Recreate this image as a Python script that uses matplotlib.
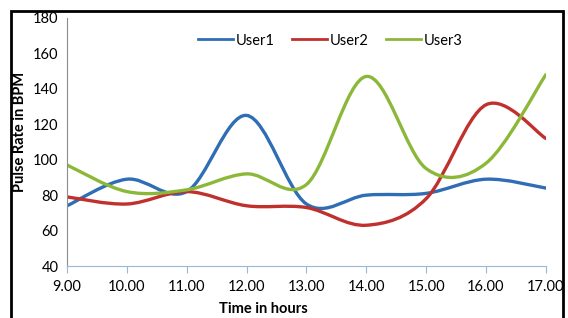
import matplotlib
matplotlib.use("Agg")
import matplotlib.pyplot as plt
import numpy as np
from matplotlib.path import Path
from matplotlib.patches import PathPatch, Rectangle
from matplotlib.lines import Line2D

hours = [9, 10, 11, 12, 13, 14, 15, 16, 17]
hour_labels = ["9.00", "10.00", "11.00", "12.00", "13.00", "14.00", "15.00", "16.00", "17.00"]
user1 = [74, 89, 82, 125, 75, 80, 81, 89, 84]
user2 = [79, 75, 82, 74, 73, 63, 78, 131, 112]
user3 = [97, 82, 83, 92, 86, 147, 95, 98, 148]

colors = {"User1": "#2f6db5", "User2": "#c0302c", "User3": "#8cb83a"}


def smooth_path(x, y):
    # Excel-style smoothed line: cubic Bezier through each point
    x = np.asarray(x, float)
    y = np.asarray(y, float)
    pts = np.column_stack([x, y])
    verts = [pts[0]]
    codes = [Path.MOVETO]
    n = len(pts)
    for i in range(n - 1):
        p0 = pts[max(i - 1, 0)]
        p1 = pts[i]
        p2 = pts[i + 1]
        p3 = pts[min(i + 2, n - 1)]
        c1 = p1 + (p2 - p0) / 6.0
        c2 = p2 - (p3 - p1) / 6.0
        verts += [c1, c2, p2]
        codes += [Path.CURVE4] * 3
    return Path(verts, codes)


fig = plt.figure(figsize=(5.68, 3.18), dpi=100)
ax = fig.add_axes([0.118, 0.1635, 0.843, 0.78])

for name, vals in [("User1", user1), ("User2", user2), ("User3", user3)]:
    patch = PathPatch(smooth_path(hours, vals), facecolor="none",
                      edgecolor=colors[name], lw=2.4, capstyle="round")
    ax.add_patch(patch)

ax.set_xlim(9, 17)
ax.set_ylim(40, 180)
ax.set_xticks(hours)
ax.set_xticklabels(hour_labels)
ax.set_yticks(range(40, 181, 20))

font = "Lato"
for lab in ax.get_xticklabels() + ax.get_yticklabels():
    lab.set_fontfamily(font)
    lab.set_fontsize(10.5)

ax.tick_params(axis="x", direction="out", length=5, color="#9db5d6", pad=5)
ax.tick_params(axis="y", length=0, pad=6)
for side in ["top", "right"]:
    ax.spines[side].set_visible(False)
ax.spines["bottom"].set_color("#9db5d6")
ax.spines["left"].set_color("#8c8c8c")

ax.set_xlabel("Time in hours", fontfamily=font, fontsize=10.5, fontweight="bold")
ax.xaxis.set_label_coords(0.41, -0.145)
ax.set_ylabel("Pulse Rate in BPM", fontfamily=font, fontsize=10.5, fontweight="bold")
ax.yaxis.set_label_coords(-0.083, 0.54)

handles = [Line2D([], [], color=colors[k], lw=2) for k in colors]
ax.legend(handles, list(colors), loc="upper center", bbox_to_anchor=(0.55, 0.99), ncol=3,
          frameon=False, handlelength=2.4, handletextpad=0.2, columnspacing=1.2,
          prop={"family": font, "size": 10.5})

fig.patches.append(Rectangle((11 / 568, -0.2), 552 / 568, 1 - 11 / 318 + 0.2,
                             transform=fig.transFigure, fill=False, edgecolor="black",
                             lw=2, clip_on=False))

fig.savefig("out.png", dpi=100)
